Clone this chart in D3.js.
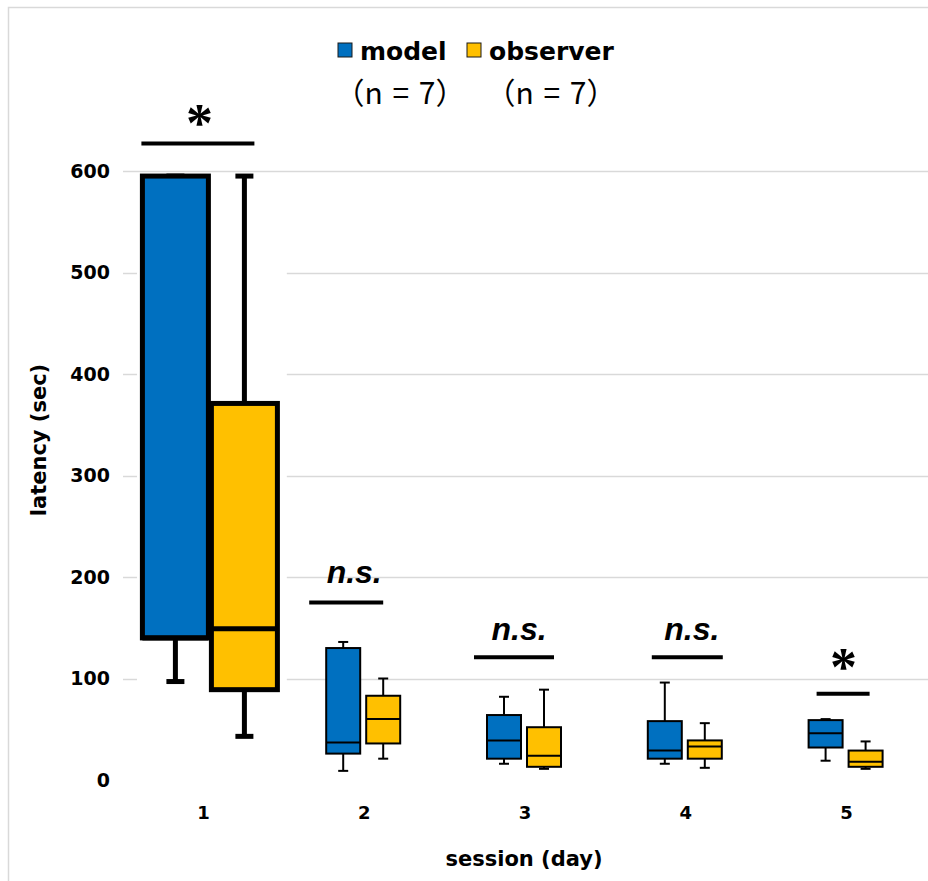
<!DOCTYPE html>
<html>
<head>
<meta charset="utf-8">
<script src="https://cdn.jsdelivr.net/npm/d3@7"></script>
<style>
  body { margin: 0; background: #fff; }
  svg { display: block; }
</style>
</head>
<body>
<div id="vis"></div>
<script>
const FRAME_HEIGHT = 881;
const FRAME_WIDTH = 928;
const MARGINS = {left: 123, right: 1, top: 171, bottom: 101};

const VIS_HEIGHT = FRAME_HEIGHT - MARGINS.top - MARGINS.bottom;
const VIS_WIDTH = FRAME_WIDTH - MARGINS.left - MARGINS.right;

// data (latency, sec)
const sessions = ["1", "2", "3", "4", "5"];
const yTicks = [0, 100, 200, 300, 400, 500, 600];

const modelMin    = [97, 9, 16, 16, 19];
const modelQ1     = [140, 26, 21, 21, 32];
const modelMedian = [140, 37, 39, 29, 46];
const modelQ3     = [595, 130, 64, 58, 59];
const modelMax    = [595, 136, 82, 96, 60];

const obsMin    = [43, 21, 11, 12, 11];
const obsQ1     = [89, 36, 13, 21, 13];
const obsMedian = [149, 60, 24, 33, 18];
const obsQ3     = [371, 83, 52, 39, 29];
const obsMax    = [595, 100, 89, 56, 38];

const sigLabels = ["*", "n.s.", "n.s.", "n.s.", "*"];
const sigLevel  = [627, 175, 121, 121, 85];

// layout tweaks (session 1 is drawn larger in the original)
const BOX_STYLE = [
  {width: 66, stroke: 5, cap: 18, offsets: [-28, 41]},
  {width: 34, stroke: 2, cap: 10, offsets: [-21, 19]},
  {width: 34, stroke: 2, cap: 10, offsets: [-21, 19]},
  {width: 34, stroke: 2, cap: 10, offsets: [-21, 19]},
  {width: 34, stroke: 2, cap: 10, offsets: [-21, 19]}
];
const SIG_BAR = [[-62, 51], [-55, 19], [-51, 29], [-34, 37], [-30, 23]];
const SIG_TEXT = [{dx: -4, dy: -3}, {dx: -10, dy: -19}, {dx: -6, dy: -17}, {dx: 6, dy: -17}, {dx: -3, dy: -9}];

const COLORS = ["#0070C0", "#FFC000"];

const FRAME = d3.select("#vis")
                .append("svg")
                  .attr("height", FRAME_HEIGHT)
                  .attr("width", FRAME_WIDTH);

// light frame border (top + left only)
FRAME.append("path")
      .attr("d", "M8.5,881 V7.5 H928")
      .attr("fill", "none")
      .attr("stroke", "#d9d9d9")
      .attr("stroke-width", 1.5);

const X_SCALE = d3.scaleBand()
                  .domain(sessions)
                  .range([MARGINS.left, MARGINS.left + VIS_WIDTH]);

const Y_SCALE = d3.scaleLinear()
                  .domain([0, 600])
                  .range([MARGINS.top + VIS_HEIGHT, MARGINS.top]);

const cx = (s) => X_SCALE(s) + X_SCALE.bandwidth() / 2;

// gridlines
FRAME.append("g")
      .selectAll("line")
      .data(yTicks.filter(d => d > 0))
      .enter()
      .append("line")
        .attr("x1", MARGINS.left)
        .attr("x2", FRAME_WIDTH)
        .attr("y1", d => Math.round(Y_SCALE(d)) + 0.5)
        .attr("y2", d => Math.round(Y_SCALE(d)) + 0.5)
        .attr("stroke", "#d9d9d9")
        .attr("stroke-width", 1.3);

// session 1 invisible base series hides the grid behind it
FRAME.append("rect")
      .attr("x", X_SCALE("1") + 14)
      .attr("y", Y_SCALE(modelQ3[0]))
      .attr("width", X_SCALE.bandwidth() - 11)
      .attr("height", Y_SCALE(0) - Y_SCALE(modelQ3[0]))
      .attr("fill", "#fff");

// y axis labels
FRAME.append("g")
      .selectAll("text")
      .data(yTicks)
      .enter()
      .append("text")
        .attr("x", 110)
        .attr("y", d => Y_SCALE(d))
        .attr("dy", "0.36em")
        .attr("text-anchor", "end")
        .attr("font-family", "DejaVu Sans")
        .attr("font-weight", "bold")
        .attr("font-size", "19px")
        .text(d => d);

// x axis labels
FRAME.append("g")
      .selectAll("text")
      .data(sessions)
      .enter()
      .append("text")
        .attr("x", d => cx(d))
        .attr("y", 819)
        .attr("text-anchor", "middle")
        .attr("font-family", "DejaVu Sans")
        .attr("font-weight", "bold")
        .attr("font-size", "18px")
        .text(d => d);

// box plots
const groups = [
  {min: modelMin, q1: modelQ1, med: modelMedian, q3: modelQ3, max: modelMax},
  {min: obsMin, q1: obsQ1, med: obsMedian, q3: obsQ3, max: obsMax}
];

groups.forEach((g, gi) => {
  const rows = sessions.map((s, i) => ({
    s: s, i: i, min: g.min[i], q1: g.q1[i], med: g.med[i], q3: g.q3[i], max: g.max[i],
    st: BOX_STYLE[i], x: cx(s) + BOX_STYLE[i].offsets[gi]
  }));

  const box = FRAME.append("g")
                    .selectAll("g")
                    .data(rows)
                    .enter()
                    .append("g");

  // whiskers
  box.append("line")
      .attr("x1", d => d.x).attr("x2", d => d.x)
      .attr("y1", d => Y_SCALE(d.max)).attr("y2", d => Y_SCALE(d.q3))
      .attr("stroke", "#000").attr("stroke-width", d => d.st.stroke);
  box.append("line")
      .attr("x1", d => d.x).attr("x2", d => d.x)
      .attr("y1", d => Y_SCALE(d.q1)).attr("y2", d => Y_SCALE(d.min))
      .attr("stroke", "#000").attr("stroke-width", d => d.st.stroke);
  box.append("line")
      .attr("x1", d => d.x - d.st.cap / 2).attr("x2", d => d.x + d.st.cap / 2)
      .attr("y1", d => Y_SCALE(d.max)).attr("y2", d => Y_SCALE(d.max))
      .attr("stroke", "#000").attr("stroke-width", d => d.st.stroke);
  box.append("line")
      .attr("x1", d => d.x - d.st.cap / 2).attr("x2", d => d.x + d.st.cap / 2)
      .attr("y1", d => Y_SCALE(d.min)).attr("y2", d => Y_SCALE(d.min))
      .attr("stroke", "#000").attr("stroke-width", d => d.st.stroke);

  // box
  box.append("rect")
      .attr("x", d => d.x - d.st.width / 2)
      .attr("y", d => Y_SCALE(d.q3))
      .attr("width", d => d.st.width)
      .attr("height", d => Y_SCALE(d.q1) - Y_SCALE(d.q3))
      .attr("fill", COLORS[gi])
      .attr("stroke", "#000")
      .attr("stroke-width", d => d.st.stroke);

  // median
  box.append("line")
      .attr("x1", d => d.x - d.st.width / 2).attr("x2", d => d.x + d.st.width / 2)
      .attr("y1", d => Y_SCALE(d.med)).attr("y2", d => Y_SCALE(d.med))
      .attr("stroke", "#000").attr("stroke-width", d => d.st.stroke);
});

// significance bars and labels
const sig = FRAME.append("g")
                  .selectAll("g")
                  .data(sessions.map((s, i) => ({s: s, i: i, label: sigLabels[i], level: sigLevel[i]})))
                  .enter()
                  .append("g");

sig.append("line")
    .attr("x1", d => cx(d.s) + SIG_BAR[d.i][0])
    .attr("x2", d => cx(d.s) + SIG_BAR[d.i][1])
    .attr("y1", d => Y_SCALE(d.level))
    .attr("y2", d => Y_SCALE(d.level))
    .attr("stroke", "#000")
    .attr("stroke-width", 4);

sig.append("text")
    .attr("x", d => cx(d.s) + SIG_TEXT[d.i].dx)
    .attr("y", d => Y_SCALE(d.level) + SIG_TEXT[d.i].dy)
    .attr("text-anchor", "middle")
    .attr("font-family", d => d.label === "*" ? "Liberation Serif" : "Liberation Sans")
    .attr("font-style", d => d.label === "*" ? "normal" : "italic")
    .attr("font-weight", "bold")
    .attr("font-size", d => d.label === "*" ? "54px" : "32px")
    .text(d => d.label);

// axis titles
FRAME.append("text")
      .attr("x", 524)
      .attr("y", 866)
      .attr("text-anchor", "middle")
      .attr("font-family", "DejaVu Sans")
      .attr("font-weight", "bold")
      .attr("font-size", "21px")
      .text("session (day)");

FRAME.append("text")
      .attr("transform", "translate(46,440) rotate(-90)")
      .attr("text-anchor", "middle")
      .attr("font-family", "DejaVu Sans")
      .attr("font-weight", "bold")
      .attr("font-size", "21px")
      .text("latency (sec)");

// legend
const legendItems = ["model", "observer"];
const legendN = ["（n = 7）", "（n = 7）"];
const LEGEND_X = [338, 467];
const LEGEND_N_X = [400, 551];

const legend = FRAME.append("g")
                    .selectAll("g")
                    .data(legendItems)
                    .enter()
                    .append("g");

legend.append("rect")
      .attr("x", (d, i) => LEGEND_X[i])
      .attr("y", 43)
      .attr("width", 14)
      .attr("height", 14)
      .attr("fill", (d, i) => COLORS[i])
      .attr("stroke", "#1a1a1a")
      .attr("stroke-width", 1);

legend.append("text")
      .attr("x", (d, i) => LEGEND_X[i] + 22)
      .attr("y", 60)
      .attr("font-family", "DejaVu Sans")
      .attr("font-weight", "bold")
      .attr("font-size", "25px")
      .text(d => d);

legend.append("text")
      .attr("x", (d, i) => LEGEND_N_X[i])
      .attr("y", 104)
      .attr("text-anchor", "middle")
      .attr("font-family", "Noto Sans CJK JP")
      .attr("font-size", "30px")
      .attr("word-spacing", "3px")
      .text((d, i) => legendN[i]);
</script>
</body>
</html>
